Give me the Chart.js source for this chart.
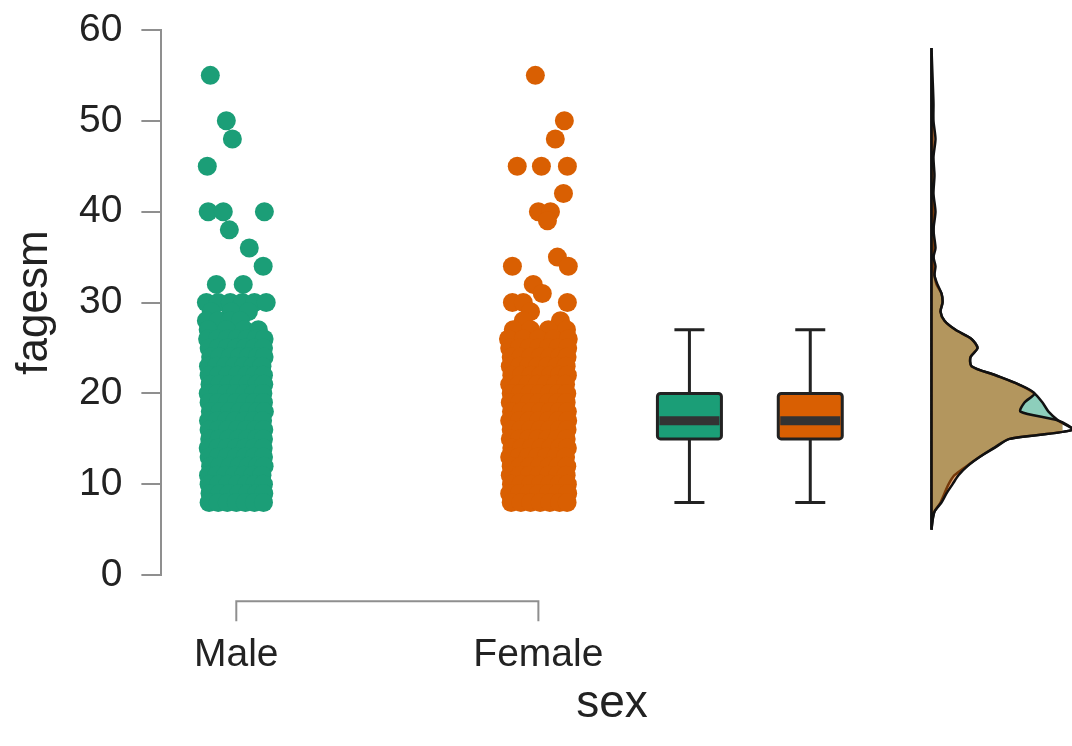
<!DOCTYPE html>
<html>
<head>
<meta charset="utf-8">
<script src="https://cdn.jsdelivr.net/npm/chart.js@4.4.1/dist/chart.umd.min.js"></script>
<style>
  html, body { margin: 0; padding: 0; background: #fff; }
  #wrap { width: 1072px; height: 746px; position: relative; }
</style>
</head>
<body>
<div id="wrap"><canvas id="rainChart"></canvas></div>
<script>
const categories = ['Male', 'Female'];
const yTicks = [0, 10, 20, 30, 40, 50, 60];

// jittered raw points: one age per row, the x jitter of each point in that row
const maleAges = [55, 50, 48, 45, 40, 38, 36, 34, 32, 30, 29, 28, 27, 26, 25, 24, 23, 22, 21, 20, 19, 18, 17, 16, 15, 14, 13, 12, 11, 10, 9, 8];
const maleJitter = [
  [-0.086], [-0.033], [-0.013], [-0.096], [-0.093, -0.043, 0.093], [-0.023], [0.043], [0.089],
  [-0.066, 0.023], [-0.099, -0.06, -0.02, 0.02, 0.06, 0.099], [-0.083, -0.017, 0.04],
  [-0.099, -0.06, -0.02, 0.013], [-0.093, -0.033, 0.026, 0.073],
  [-0.095, -0.062, -0.03, 0.002, 0.035, 0.066, 0.092],
  [-0.09, -0.06, -0.03, 0, 0.03, 0.06, 0.09],
  [-0.085, -0.055, -0.02, 0.01, 0.04, 0.07, 0.092],
  [-0.092, -0.065, -0.035, -0.005, 0.025, 0.055, 0.085],
  [-0.09, -0.058, -0.028, 0.004, 0.034, 0.062, 0.09],
  [-0.087, -0.056, -0.024, 0.008, 0.038, 0.068, 0.091],
  [-0.093, -0.062, -0.032, -0.002, 0.028, 0.058, 0.088],
  [-0.09, -0.06, -0.03, 0, 0.03, 0.06, 0.09],
  [-0.086, -0.054, -0.022, 0.012, 0.042, 0.07, 0.093],
  [-0.092, -0.063, -0.033, -0.004, 0.027, 0.057, 0.087],
  [-0.09, -0.059, -0.029, 0.003, 0.033, 0.063, 0.091],
  [-0.088, -0.057, -0.025, 0.007, 0.037, 0.067, 0.09],
  [-0.093, -0.061, -0.031, 0, 0.029, 0.059, 0.089],
  [-0.09, -0.06, -0.03, 0, 0.03, 0.06, 0.09],
  [-0.085, -0.055, -0.02, 0.01, 0.04, 0.07, 0.092],
  [-0.092, -0.065, -0.035, -0.005, 0.025, 0.055, 0.085],
  [-0.09, -0.058, -0.028, 0.004, 0.034, 0.062, 0.09],
  [-0.087, -0.056, -0.024, 0.008, 0.038, 0.068, 0.091],
  [-0.09, -0.06, -0.03, 0, 0.03, 0.06, 0.09]
];
const femaleAges = [55, 50, 48, 45, 42, 40, 39, 35, 34, 32, 31, 30, 29, 28, 27, 26, 25, 24, 23, 22, 21, 20, 19, 18, 17, 16, 15, 14, 13, 12, 11, 10, 9, 8];
const femaleJitter = [
  [-0.01], [0.086], [0.056], [-0.07, 0.01, 0.096], [0.083], [0, 0.04], [0.03], [0.063],
  [-0.086, 0.099], [-0.017], [0.013], [-0.086, -0.05, 0.096], [-0.026], [-0.05, 0.073],
  [-0.083, -0.026, 0.033, 0.093],
  [-0.099, -0.05, 0, 0.05, 0.099],
  [-0.095, -0.063, -0.031, 0.001, 0.033, 0.065, 0.097],
  [-0.09, -0.058, -0.026, 0.006, 0.038, 0.07, 0.095],
  [-0.093, -0.062, -0.032, -0.002, 0.03, 0.062, 0.092],
  [-0.088, -0.056, -0.024, 0.008, 0.04, 0.07, 0.096],
  [-0.095, -0.064, -0.034, -0.004, 0.026, 0.058, 0.09],
  [-0.09, -0.06, -0.028, 0.004, 0.036, 0.066, 0.094],
  [-0.093, -0.061, -0.03, 0.002, 0.034, 0.064, 0.092],
  [-0.089, -0.057, -0.025, 0.007, 0.039, 0.069, 0.096],
  [-0.095, -0.063, -0.031, 0.001, 0.033, 0.065, 0.097],
  [-0.09, -0.058, -0.026, 0.006, 0.038, 0.07, 0.095],
  [-0.093, -0.062, -0.032, -0.002, 0.03, 0.062, 0.092],
  [-0.088, -0.056, -0.024, 0.008, 0.04, 0.07, 0.096],
  [-0.095, -0.064, -0.034, -0.004, 0.026, 0.058, 0.09],
  [-0.09, -0.06, -0.028, 0.004, 0.036, 0.066, 0.094],
  [-0.093, -0.061, -0.03, 0.002, 0.034, 0.064, 0.092],
  [-0.089, -0.057, -0.025, 0.007, 0.039, 0.069, 0.096],
  [-0.095, -0.063, -0.031, 0.001, 0.033, 0.065, 0.097],
  [-0.09, -0.058, -0.026, 0.006, 0.038, 0.07, 0.095]
];

// box plot summaries (Male, Female)
const boxMin = [8, 8];
const boxQ1 = [15, 15];
const boxMedian = [17, 17];
const boxQ3 = [20, 20];
const boxMax = [27, 27];

// half-violin densities by age
const densAges = [5, 6, 7, 8, 9, 10, 11, 12, 13, 14, 15, 16, 17, 18, 19, 20, 21, 22, 23, 24, 25, 26, 27, 28, 29, 30, 31, 32, 33, 34, 35, 36, 38, 40, 42, 44, 46, 48, 50, 52, 55, 58];
const maleDens = [0, 0.001, 0.003, 0.009, 0.013, 0.017, 0.023, 0.035, 0.048, 0.063, 0.078, 0.141, 0.127, 0.117, 0.111, 0.103, 0.087, 0.064, 0.040, 0.039, 0.046, 0.040, 0.024, 0.013, 0.009, 0.011, 0.010, 0.005, 0.003, 0.002, 0.002, 0.002, 0.002, 0.002, 0.001, 0.001, 0.001, 0.001, 0.001, 0.001, 0, 0];
const femaleDens = [0, 0.001, 0.003, 0.010, 0.015, 0.021, 0.027, 0.036, 0.048, 0.062, 0.078, 0.141, 0.127, 0.089, 0.093, 0.103, 0.087, 0.064, 0.040, 0.039, 0.046, 0.040, 0.024, 0.013, 0.009, 0.011, 0.010, 0.006, 0.003, 0.004, 0.002, 0.004, 0.002, 0.004, 0.002, 0.003, 0.002, 0.004, 0.002, 0.002, 0.001, 0];

const FONT = '"Liberation Sans", Arial, Helvetica, sans-serif';
const TEXT = '#222222';
const AXIS_GREY = '#8f8f8f';
const GREEN = '#1b9e77';
const ORANGE = '#d95f02';

function jitterPoints(ages, jitter, centre) {
  const pts = [];
  ages.forEach((age, i) => {
    jitter[i].forEach((j) => pts.push({ x: centre + j, y: age }));
  });
  return pts;
}

function densityShape(dens) {
  const pts = densAges.map((age, i) => ({ x: dens[i], y: age }));
  pts.push({ x: 0, y: densAges[densAges.length - 1] });
  pts.push({ x: 0, y: densAges[0] });
  return pts;
}

// boxes and the R style x bracket
const rainExtras = {
  id: 'rainExtras',
  afterDatasetsDraw(chart) {
    const { ctx, scales } = chart;
    const x = scales.x;
    const y = scales.y;
    const boxCentres = [2.5, 2.9];
    const fills = [GREEN, ORANGE];
    ctx.save();
    boxCentres.forEach((c, i) => {
      const cx = x.getPixelForValue(c);
      const half = 32;
      const cap = 15;
      ctx.strokeStyle = '#222';
      ctx.lineWidth = 3;
      ctx.beginPath();
      ctx.moveTo(cx, y.getPixelForValue(boxMax[i]));
      ctx.lineTo(cx, y.getPixelForValue(boxQ3[i]));
      ctx.moveTo(cx, y.getPixelForValue(boxQ1[i]));
      ctx.lineTo(cx, y.getPixelForValue(boxMin[i]));
      ctx.moveTo(cx - cap, y.getPixelForValue(boxMax[i]));
      ctx.lineTo(cx + cap, y.getPixelForValue(boxMax[i]));
      ctx.moveTo(cx - cap, y.getPixelForValue(boxMin[i]));
      ctx.lineTo(cx + cap, y.getPixelForValue(boxMin[i]));
      ctx.stroke();
      const top = y.getPixelForValue(boxQ3[i]);
      const bot = y.getPixelForValue(boxQ1[i]);
      ctx.fillStyle = fills[i];
      ctx.beginPath();
      ctx.roundRect(cx - half, top, half * 2, bot - top, 3);
      ctx.fill();
      ctx.stroke();
      ctx.strokeStyle = '#333';
      ctx.lineWidth = 9;
      ctx.beginPath();
      ctx.moveTo(cx - half + 2, y.getPixelForValue(boxMedian[i]));
      ctx.lineTo(cx + half - 2, y.getPixelForValue(boxMedian[i]));
      ctx.stroke();
    });

    const by = chart.chartArea.bottom + 26;
    const x1 = x.getPixelForValue(1);
    const x2 = x.getPixelForValue(2);
    ctx.strokeStyle = AXIS_GREY;
    ctx.lineWidth = 2;
    ctx.beginPath();
    ctx.moveTo(x1, by + 20);
    ctx.lineTo(x1, by);
    ctx.lineTo(x2, by);
    ctx.lineTo(x2, by + 20);
    ctx.stroke();
    ctx.restore();
  },
};

const ctx = document.getElementById('rainChart').getContext('2d');
new Chart(ctx, {
  type: 'scatter',
  data: {
    datasets: [
      {
        label: 'Male',
        data: jitterPoints(maleAges, maleJitter, 1),
        backgroundColor: GREEN,
        borderWidth: 0,
        pointRadius: 9.5,
      },
      {
        label: 'Female',
        data: jitterPoints(femaleAges, femaleJitter, 2),
        backgroundColor: ORANGE,
        borderWidth: 0,
        pointRadius: 9.5,
      },
      {
        label: 'Female density',
        data: densityShape(femaleDens),
        xAxisID: 'xd',
        showLine: true,
        fill: 'shape',
        tension: 0.25,
        clip: false,
        backgroundColor: 'rgba(217,95,2,0.5)',
        borderColor: '#111',
        borderWidth: 2.5,
        pointRadius: 0,
      },
      {
        label: 'Male density',
        data: densityShape(maleDens),
        xAxisID: 'xd',
        showLine: true,
        fill: 'shape',
        tension: 0.25,
        clip: false,
        backgroundColor: 'rgba(27,158,119,0.5)',
        borderColor: '#111',
        borderWidth: 2.5,
        pointRadius: 0,
      },
    ],
  },
  options: {
    responsive: true,
    maintainAspectRatio: false,
    animation: false,
    events: [],
    layout: { padding: 0 },
    plugins: {
      legend: { display: false },
      tooltip: { enabled: false },
    },
    scales: {
      x: {
        type: 'linear',
        min: 0.752,
        max: 3.735,
        afterBuildTicks(scale) {
          scale.ticks = categories.map((c, i) => ({ value: i + 1 }));
        },
        grid: { display: false, drawTicks: false },
        border: { display: false },
        ticks: {
          callback: (v, i) => categories[i],
          color: TEXT,
          font: { size: 39, family: FONT },
          padding: 57,
          maxRotation: 0,
          autoSkip: false,
        },
        title: {
          display: true,
          text: 'sex',
          color: TEXT,
          font: { size: 46, family: FONT, lineHeight: 1 },
          padding: { top: -55, bottom: 19 },
        },
      },
      xd: {
        type: 'linear',
        display: false,
        min: -0.770,
        max: 0.131,
      },
      y: {
        min: 0,
        max: 60,
        afterBuildTicks(scale) {
          scale.ticks = yTicks.map((v) => ({ value: v }));
        },
        border: { display: true, color: AXIS_GREY, width: 2 },
        grid: {
          display: true,
          drawOnChartArea: false,
          drawTicks: true,
          tickLength: 20,
          color: AXIS_GREY,
          lineWidth: 2,
        },
        ticks: {
          color: TEXT,
          font: { size: 39, family: FONT, lineHeight: 0.56 },
          padding: 19,
        },
        title: {
          display: true,
          text: 'fagesm',
          color: TEXT,
          font: { size: 44, family: FONT, lineHeight: 1 },
          padding: { top: 13, bottom: 3 },
        },
      },
    },
  },
  plugins: [rainExtras],
});
</script>
</body>
</html>
